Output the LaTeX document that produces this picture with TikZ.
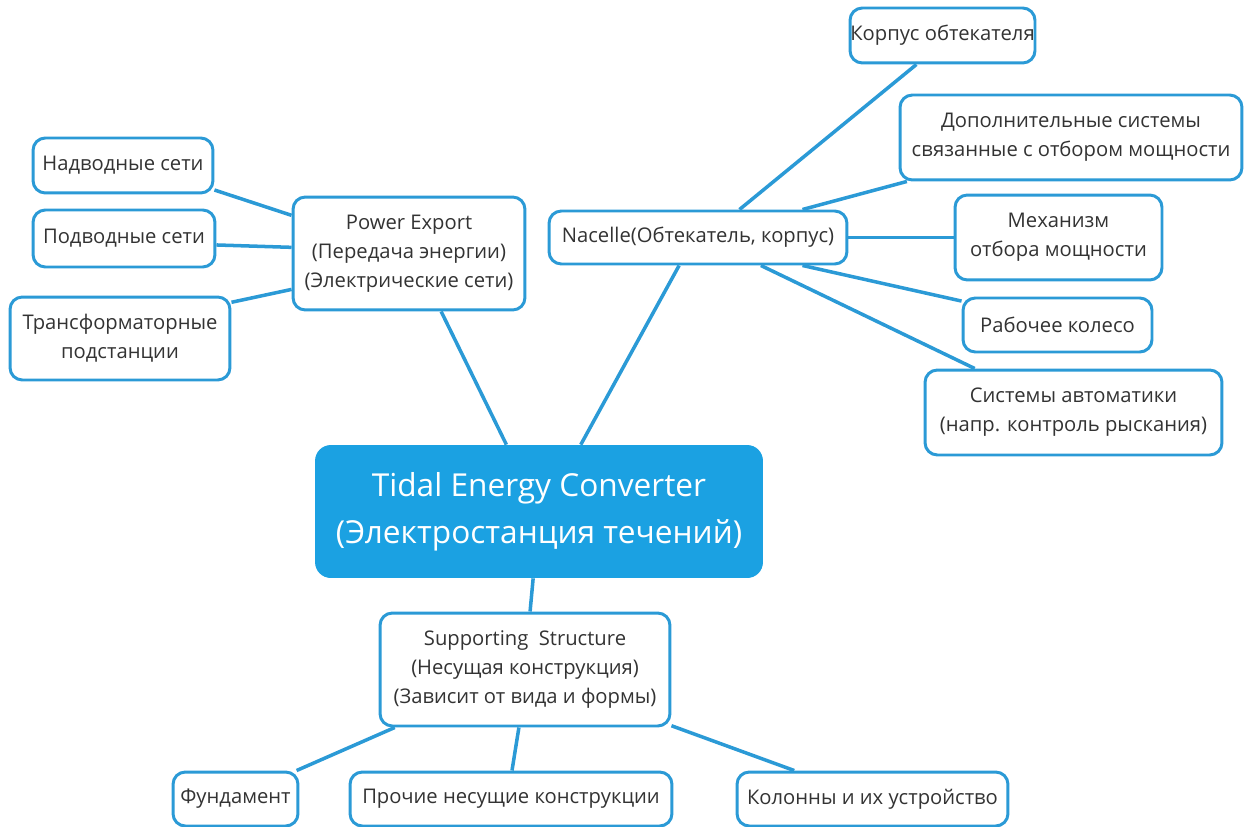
\documentclass[tikz,border=0pt]{standalone}
\usepackage{fontspec}
\setmainfont{Open Sans}
\definecolor{tecline}{RGB}{43,154,214}
\definecolor{tecfill}{RGB}{27,161,226}
\definecolor{tectext}{RGB}{51,51,51}
\begin{document}
\begin{tikzpicture}[x=0.02cm,y=-0.02cm,
  leaf/.style={draw=tecline,line width=1.7pt,rounded corners=7pt,fill=white,text=tectext,align=center,inner sep=0pt,font=\fontsize{11.5}{16.5}\selectfont},
  hub/.style={fill=tecfill,rounded corners=9pt,text=white,align=center,inner sep=0pt,font=\fontsize{18}{27}\selectfont},
  link/.style={draw=tecline,line width=2pt}]
\useasboundingbox (0,0) rectangle (1246,827);
\node[hub,minimum width=8.96cm,minimum height=2.66cm] (tec) at (539,511.5) {Tidal Energy Converter\\(Электростанция течений)};
\node[leaf,minimum width=4.64cm,minimum height=2.26cm] (power) at (409,253.5) {Power Export\\(Передача энергии)\\(Электрические сети)};
\node[leaf,minimum width=3.6cm,minimum height=1.1cm] (nadv) at (123,165.5) {Надводные сети};
\node[leaf,minimum width=3.64cm,minimum height=1.14cm] (podv) at (124,238.5) {Подводные сети};
\node[leaf,minimum width=4.4cm,minimum height=1.66cm] (trans) at (120,338.5) {Трансформаторные\\подстанции};
\node[leaf,minimum width=5.96cm,minimum height=1.06cm] (nac) at (698,237.5) {Nacelle(Обтекатель, корпус)};
\node[leaf,minimum width=3.7cm,minimum height=1.1cm] (korp) at (942.5,35.5) {Корпус обтекателя};
\node[leaf,minimum width=6.84cm,minimum height=1.7cm] (dop) at (1071,137.5) {Дополнительные системы\\связанные с отбором мощности};
\node[leaf,minimum width=4.14cm,minimum height=1.7cm] (mech) at (1058.5,237.5) {Механизм\\отбора мощности};
\node[leaf,minimum width=3.78cm,minimum height=1.08cm] (kol) at (1057.5,325) {Рабочее колесо};
\node[leaf,minimum width=5.94cm,minimum height=1.7cm] (avto) at (1073.5,412.5) {Системы автоматики\\(напр. контроль рыскания)};
\node[leaf,minimum width=5.8cm,minimum height=2.26cm] (supp) at (525,669.5) {Supporting\ \ Structure\\(Несущая конструкция)\\(Зависит от вида и формы)};
\node[leaf,minimum width=2.5cm,minimum height=1.08cm] (fund) at (235.5,799) {Фундамент};
\node[leaf,minimum width=6.44cm,minimum height=1.08cm] (proch) at (511,799) {Прочие несущие конструкции};
\node[leaf,minimum width=5.42cm,minimum height=1.08cm] (kolon) at (872.5,799) {Колонны и их устройство};
\draw[link] (power.299) -- (tec.116);
\draw[link] (nac.236) -- (tec.58);
\draw[link] (tec.265) -- (supp.85);
\draw[link] (power.162) -- (nadv.-15);
\draw[link] (power.177) -- (podv.-4);
\draw[link] (power.197) -- (trans.18);
\draw[link] (nac.34) -- (korp.228);
\draw[link] (nac.15) -- (dop.195);
\draw[link] (nac.east) -- (mech.west);
\draw[link] (nac.-15) -- (kol.166);
\draw[link] (nac.-24) -- (avto.156);
\draw[link] (supp.204) -- (fund.25);
\draw[link] (supp.264) -- (proch.88);
\draw[link] (supp.-21) -- (kolon.160);
\end{tikzpicture}
\end{document}
